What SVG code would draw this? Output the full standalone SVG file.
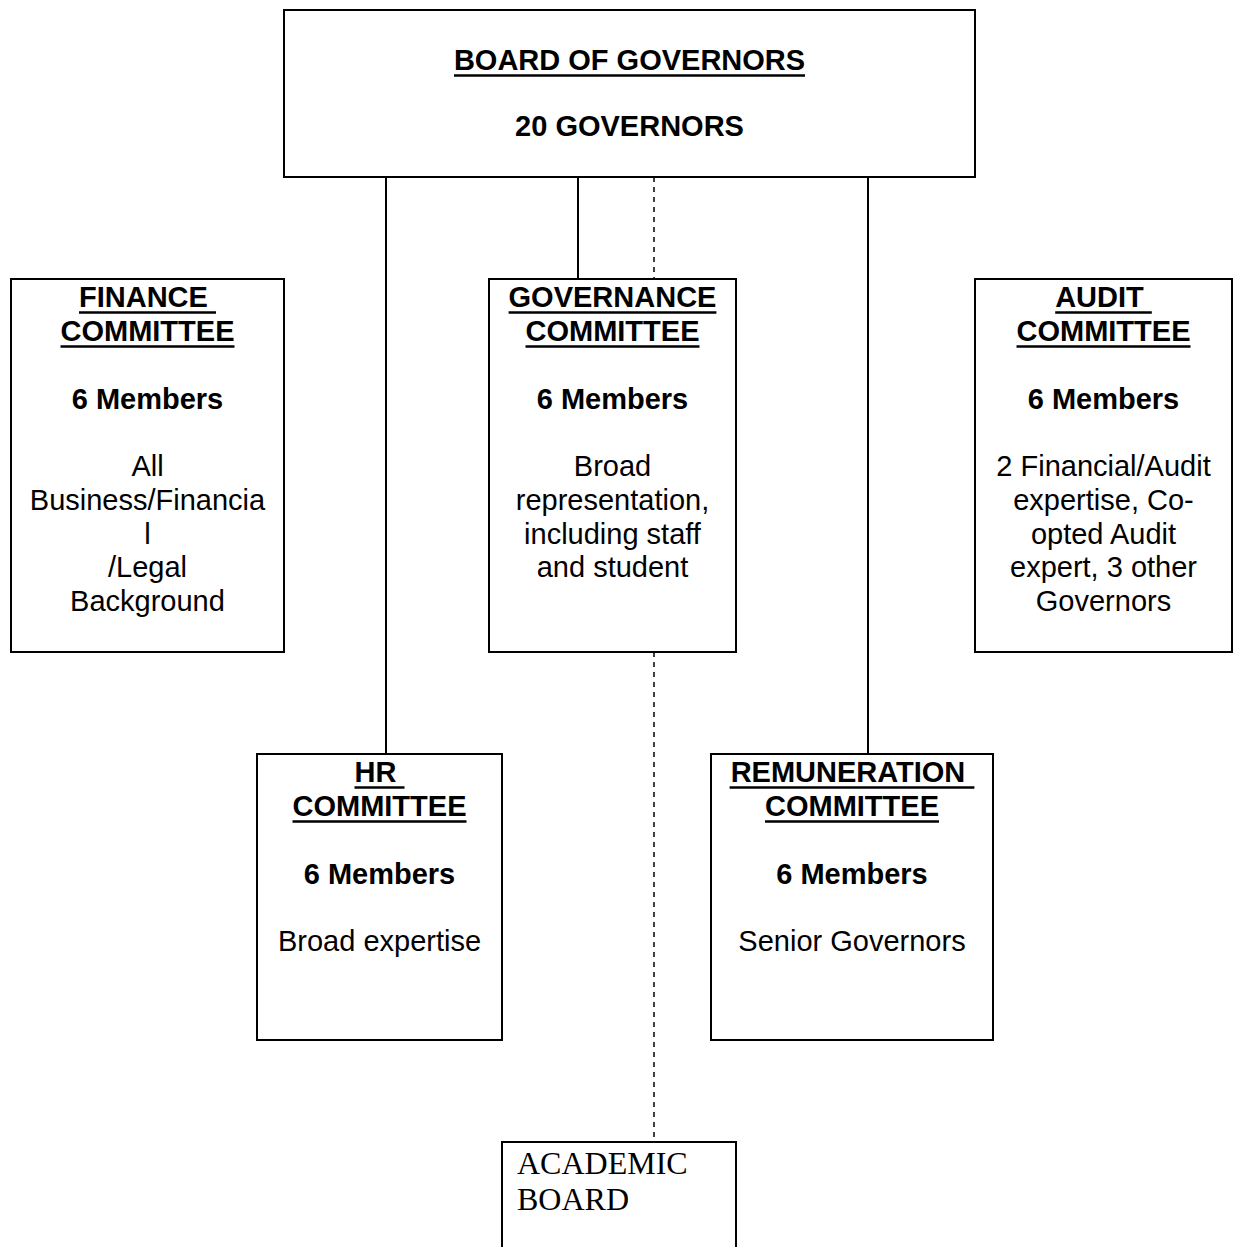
<svg xmlns="http://www.w3.org/2000/svg" width="1237" height="1247" viewBox="0 0 1237 1247">
<style>
.box{fill:#fff;stroke:#000;stroke-width:2}
.ln{stroke:#000;stroke-width:2;fill:none}
.dash{stroke:#000;stroke-width:1.5;fill:none;stroke-dasharray:5 5}
.ul{stroke:#000;stroke-width:2.6}
.b{font-family:"Liberation Sans",Arial,sans-serif;font-weight:bold;font-size:29px;text-anchor:middle;white-space:pre}
.r{font-family:"Liberation Sans",Arial,sans-serif;font-size:29px;text-anchor:middle}
.s{font-family:"Liberation Serif","Times New Roman",serif;font-size:32px}
</style>
<rect width="1237" height="1247" fill="#fff"/>
<g id="connectors">
<line class="ln" x1="386" y1="177" x2="386" y2="754"/>
<line class="ln" x1="578" y1="177" x2="578" y2="279"/>
<line class="ln" x1="868" y1="177" x2="868" y2="754"/>
<line class="dash" x1="654" y1="177" x2="654" y2="279"/>
<line class="dash" x1="654" y1="652" x2="654" y2="1142"/>
</g>
<g id="board">
<rect class="box" x="284" y="10" width="691" height="167"/>
<text class="b" x="629.5" y="70">BOARD OF GOVERNORS</text>
<line class="ul" x1="454" y1="75.5" x2="805" y2="75.5"/>
<text class="b" x="629.5" y="136">20 GOVERNORS</text>
</g>
<g id="finance">
<rect class="box" x="11" y="279" width="273" height="373"/>
<text class="b" x="147.5" y="307" xml:space="preserve">FINANCE </text>
<line class="ul" x1="79" y1="312.5" x2="216" y2="312.5"/>
<text class="b" x="147.5" y="341">COMMITTEE</text>
<line class="ul" x1="60.5" y1="346.5" x2="234.5" y2="346.5"/>
<text class="b" x="147.5" y="409">6 Members</text>
<text class="r" x="147.5" y="476">All</text>
<text class="r" x="147.5" y="510">Business/Financia</text>
<text class="r" x="147.5" y="544">l</text>
<text class="r" x="147.5" y="577">/Legal</text>
<text class="r" x="147.5" y="611">Background</text>
</g>
<g id="governance">
<rect class="box" x="489" y="279" width="247" height="373"/>
<text class="b" x="612.5" y="307">GOVERNANCE</text>
<line class="ul" x1="508.6" y1="312.5" x2="716.4" y2="312.5"/>
<text class="b" x="612.5" y="341">COMMITTEE</text>
<line class="ul" x1="525.5" y1="346.5" x2="699.5" y2="346.5"/>
<text class="b" x="612.5" y="409">6 Members</text>
<text class="r" x="612.5" y="476">Broad</text>
<text class="r" x="612.5" y="510">representation,</text>
<text class="r" x="612.5" y="544">including staff</text>
<text class="r" x="612.5" y="577">and student</text>
</g>
<g id="audit">
<rect class="box" x="975" y="279" width="257" height="373"/>
<text class="b" x="1103.5" y="307" xml:space="preserve">AUDIT </text>
<line class="ul" x1="1055.2" y1="312.5" x2="1151.8" y2="312.5"/>
<text class="b" x="1103.5" y="341">COMMITTEE</text>
<line class="ul" x1="1016.5" y1="346.5" x2="1190.5" y2="346.5"/>
<text class="b" x="1103.5" y="409">6 Members</text>
<text class="r" x="1103.5" y="476">2 Financial/Audit</text>
<text class="r" x="1103.5" y="510">expertise, Co-</text>
<text class="r" x="1103.5" y="544">opted Audit</text>
<text class="r" x="1103.5" y="577">expert, 3 other</text>
<text class="r" x="1103.5" y="611">Governors</text>
</g>
<g id="hr">
<rect class="box" x="257" y="754" width="245" height="286"/>
<text class="b" x="379.5" y="782" xml:space="preserve">HR </text>
<line class="ul" x1="354.5" y1="787.5" x2="404.5" y2="787.5"/>
<text class="b" x="379.5" y="816">COMMITTEE</text>
<line class="ul" x1="292.5" y1="821.5" x2="466.5" y2="821.5"/>
<text class="b" x="379.5" y="884">6 Members</text>
<text class="r" x="379.5" y="951">Broad expertise</text>
</g>
<g id="remuneration">
<rect class="box" x="711" y="754" width="282" height="286"/>
<text class="b" x="852" y="782" xml:space="preserve">REMUNERATION </text>
<line class="ul" x1="729.6" y1="787.5" x2="974.4" y2="787.5"/>
<text class="b" x="852" y="816">COMMITTEE</text>
<line class="ul" x1="765" y1="821.5" x2="939" y2="821.5"/>
<text class="b" x="852" y="884">6 Members</text>
<text class="r" x="852" y="951">Senior Governors</text>
</g>
<g id="academic">
<path class="ln" d="M502 1247 V1142 H736 V1247"/>
<text class="s" x="517" y="1174">ACADEMIC</text>
<text class="s" x="517" y="1210">BOARD</text>
</g>
</svg>
